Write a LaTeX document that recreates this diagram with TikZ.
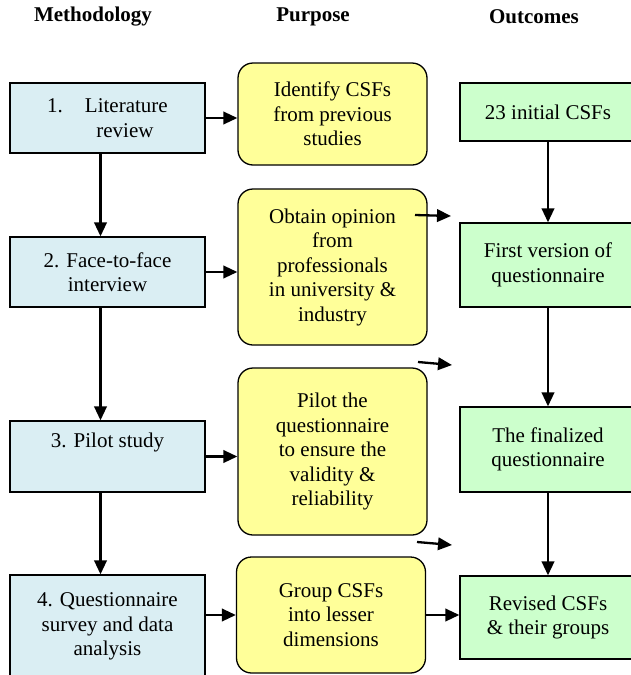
\documentclass[tikz,border=0pt]{standalone}
\usepackage{fontspec}
\setmainfont{Liberation Serif}
\usetikzlibrary{arrows.meta}
\definecolor{methodblue}{HTML}{DAEEF3}
\definecolor{purposeyellow}{HTML}{FFFF99}
\definecolor{outcomegreen}{HTML}{CCFFCC}

\begin{document}
\begin{tikzpicture}[
    x=1pt, y=-1pt,
    every node/.style={font=\fontsize{21}{24.5}\selectfont},
    method/.style={rectangle, draw, line width=1.3pt, fill=methodblue,
        minimum width=195pt, align=center},
    purpose/.style={rectangle, draw, line width=1.3pt, rounded corners=15pt,
        fill=purposeyellow, minimum width=189pt, align=center},
    outcome/.style={rectangle, draw, line width=1.3pt, fill=outcomegreen,
        minimum width=176pt, align=center},
    header/.style={font=\fontsize{21}{24}\selectfont\bfseries},
    link/.style={line width=2.3pt, -{Triangle[length=14pt,width=12.5pt]}}
]
\useasboundingbox (0,0) rectangle (631,675);

% column heads
\node (HeadMethod) [header] at (93,17) {Methodology};
\node (HeadPurpose) [header] at (313,17) {Purpose};
\node (HeadOutcome) [header] at (534,17) {Outcomes};

% methodology
\node (Method01) [method, minimum height=70pt] at (107.5,118)
  {1.\hspace{22pt}Literature\\\hspace*{35pt}review};
\node (Method02) [method, minimum height=70pt] at (107.5,272)
  {2. Face-to-face\\interview};
\node (Method03) [method, minimum height=71pt] at (107.5,456.5)
  {3. Pilot study\\\strut};
\node (Method04) [method, minimum height=103pt] at (107.5,626.5)
  {4. Questionnaire\\survey and data\\analysis};

% purpose
\node (Purpose01) [purpose, minimum height=102pt] at (332.5,114)
  {Identify CSFs\\from previous\\studies};
\node (Purpose02) [purpose, minimum height=156pt] at (332.5,267)
  {Obtain opinion\\from\\professionals\\in university \&\\industry};
\node (Purpose03) [purpose, minimum height=167pt] at (332.5,451.5)
  {Pilot the\\questionnaire\\to ensure the\\validity \&\\reliability};
\node (Purpose04) [purpose, minimum height=116pt] at (331,615)
  {Group CSFs\\into lesser\\dimensions};

% outcomes
\node (Outcome01) [outcome, minimum height=58pt] at (548,112) {23 initial CSFs};
\node (Outcome02) [outcome, minimum height=84pt] at (548,265)
  {First version of\\questionnaire};
\node (Outcome03) [outcome, minimum height=85pt] at (548,449.5)
  {The finalized\\questionnaire};
\node (Outcome04) [outcome, minimum height=83pt] at (548,617.5)
  {Revised CSFs\\\& their groups};

% loose arrows between the columns
\coordinate (Loose01a) at (415,215);
\coordinate (Loose01b) at (451,216);
\coordinate (Loose02a) at (418,362);
\coordinate (Loose02b) at (452,365);
\coordinate (Loose03a) at (417,542);
\coordinate (Loose03b) at (452,545);

\draw [link] ([xshift=-7pt]Method01.south) -- ([xshift=-7pt]Method02.north);
\draw [link] ([xshift=-7pt]Method02.south) -- ([xshift=-7pt]Method03.north);
\draw [link] ([xshift=-7pt]Method03.south) -- ([xshift=-7pt]Method04.north);
\draw [link] (Outcome01) -- (Outcome02);
\draw [link] (Outcome02) -- (Outcome03);
\draw [link] (Outcome03) -- (Outcome04);

\draw [link] (Method01.east) -- (Purpose01.west |- Method01.east);
\draw [link] (Method02.east) -- (Purpose02.west |- Method02.east);
\draw [link] (Method03.east) -- (Purpose03.west |- Method03.east);
\draw [link] (Method04.east |- Purpose04.west) -- (Purpose04.west);
\draw [link] (Purpose04.east) -- (Outcome04.west |- Purpose04.east);

\draw [link] (Loose01a) -- (Loose01b);
\draw [link] (Loose02a) -- (Loose02b);
\draw [link] (Loose03a) -- (Loose03b);

\end{tikzpicture}
\end{document}
